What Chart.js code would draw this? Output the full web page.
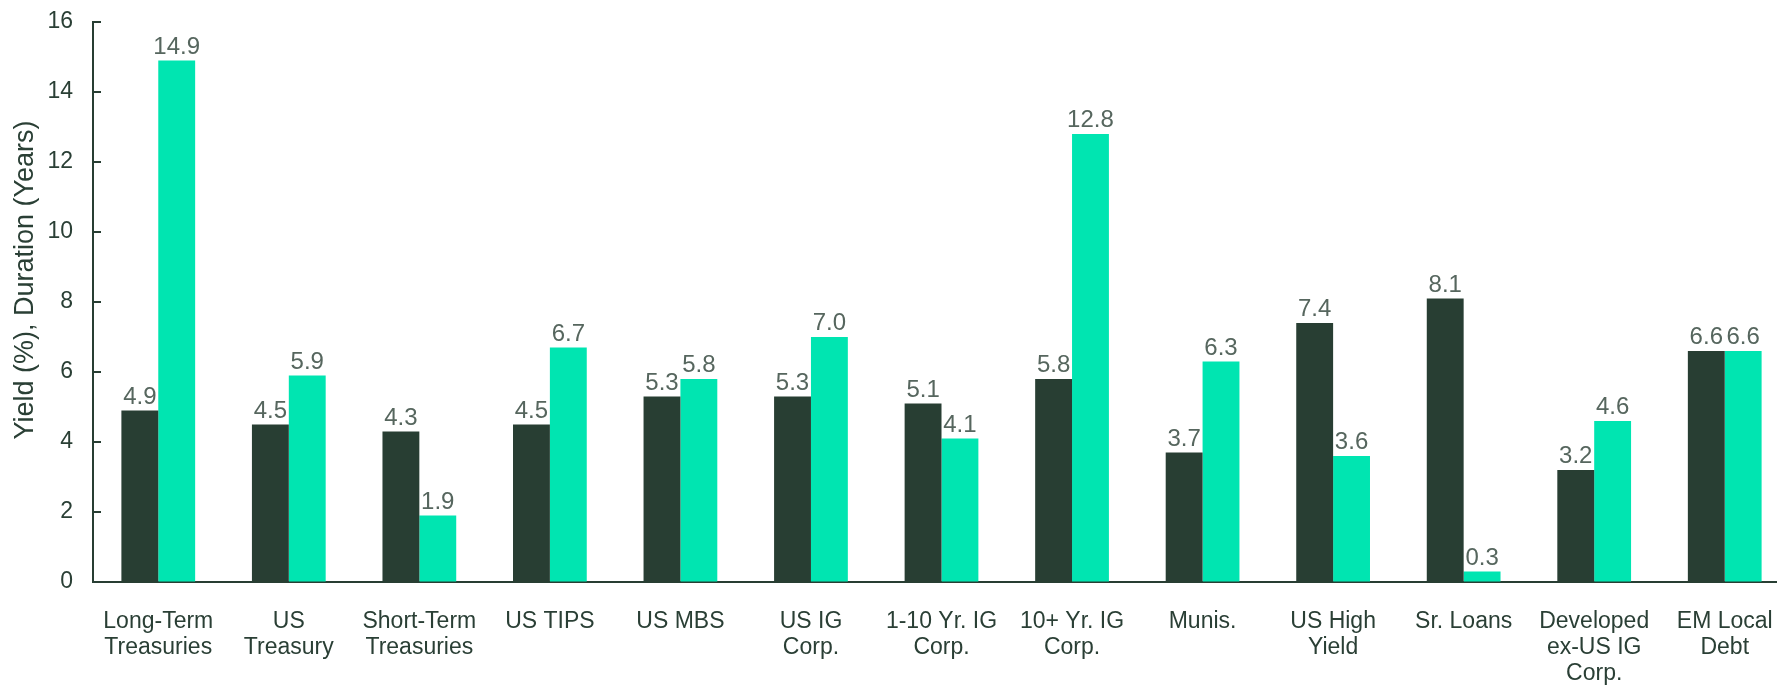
<!DOCTYPE html>
<html>
<head>
<meta charset="utf-8">
<script src="https://cdn.jsdelivr.net/npm/chart.js@4.4.1/dist/chart.umd.min.js"></script>
<style>
  html, body { margin: 0; padding: 0; background: #fff; overflow: hidden; }
</style>
</head>
<body>
<canvas id="yieldChart" width="1790" height="685"></canvas>
<script>
// Categories and series
const categories = [
    ['Long-Term', 'Treasuries'], ['US', 'Treasury'], ['Short-Term', 'Treasuries'], 'US TIPS', 'US MBS',
    ['US IG', 'Corp.'], ['1-10 Yr. IG', 'Corp.'], ['10+ Yr. IG', 'Corp.'], 'Munis.', ['US High', 'Yield'],
    'Sr. Loans', ['Developed', 'ex-US IG', 'Corp.'], ['EM Local', 'Debt']
];
const yieldValues = [4.9, 4.5, 4.3, 4.5, 5.3, 5.3, 5.1, 5.8, 3.7, 7.4, 8.1, 3.2, 6.6];
const durationValues = [14.9, 5.9, 1.9, 6.7, 5.8, 7.0, 4.1, 12.8, 6.3, 3.6, 0.3, 4.6, 6.6];
const yTicks = [0, 2, 4, 6, 8, 10, 12, 14, 16];
const yTitle = 'Yield (%), Duration (Years)';

const darkGreen = '#283e33';
const teal = '#00e5b1';
const textColor = '#2a3f35';
const fontFamily = 'Arial, "Liberation Sans", sans-serif';

// Writes each bar's value just above it
const valueLabels = {
    id: 'valueLabels',
    afterDatasetsDraw(chart) {
        const ctx = chart.ctx;
        ctx.save();
        ctx.font = '24px ' + fontFamily;
        ctx.fillStyle = '#56665e';
        ctx.textAlign = 'center';
        ctx.textBaseline = 'alphabetic';
        chart.data.datasets.forEach((ds, i) => {
            chart.getDatasetMeta(i).data.forEach((bar, j) => {
                ctx.fillText(ds.data[j].toFixed(1), bar.x, bar.y - 7);
            });
        });
        ctx.restore();
    }
};

// Short tick marks on the inner side of the value axis, plus the axis title
const yAxisDecor = {
    id: 'yAxisDecor',
    afterDraw(chart) {
        const ctx = chart.ctx;
        const y = chart.scales.y;
        ctx.save();
        ctx.strokeStyle = darkGreen;
        ctx.lineWidth = 2;
        ctx.beginPath();
        y.ticks.forEach(t => {
            const py = Math.round(y.getPixelForValue(t.value));
            ctx.moveTo(y.right, py);
            ctx.lineTo(y.right + 8, py);
        });
        ctx.stroke();

        ctx.translate(26, 280);
        ctx.rotate(-Math.PI / 2);
        ctx.font = '27px ' + fontFamily;
        ctx.fillStyle = textColor;
        ctx.textAlign = 'center';
        ctx.textBaseline = 'middle';
        ctx.fillText(yTitle, 0, 0);
        ctx.restore();
    }
};

new Chart(document.getElementById('yieldChart').getContext('2d'), {
    type: 'bar',
    data: {
        labels: categories,
        datasets: [{
            label: 'Yield (%)',
            data: yieldValues,
            backgroundColor: darkGreen,
            categoryPercentage: 0.565,
            barPercentage: 1.0
        }, {
            label: 'Duration (Years)',
            data: durationValues,
            backgroundColor: teal,
            categoryPercentage: 0.565,
            barPercentage: 1.0
        }]
    },
    options: {
        responsive: false,
        animation: false,
        layout: { padding: { top: 22, left: 0, right: 0, bottom: 0 } },
        plugins: {
            legend: { display: false },
            tooltip: { enabled: false }
        },
        scales: {
            x: {
                grid: { display: false, drawTicks: false },
                border: { display: true, color: darkGreen, width: 2 },
                ticks: {
                    color: textColor,
                    font: { size: 23, family: fontFamily, lineHeight: 1.13 },
                    padding: 27,
                    maxRotation: 0,
                    autoSkip: false
                },
                afterFit(scale) {
                    scale.height = 103;
                    scale.paddingLeft = 0;
                    scale.paddingRight = 0;
                }
            },
            y: {
                min: 0,
                max: 16,
                afterBuildTicks(scale) { scale.ticks = yTicks.map(v => ({ value: v })); },
                grid: { drawOnChartArea: false, drawTicks: false },
                border: { display: true, color: darkGreen, width: 2 },
                ticks: {
                    color: textColor,
                    font: { size: 23, family: fontFamily },
                    padding: 20
                },
                afterFit(scale) {
                    scale.width = 93;
                    scale.paddingTop = 0;
                    scale.paddingBottom = 0;
                }
            }
        }
    },
    plugins: [valueLabels, yAxisDecor]
});
</script>
</body>
</html>
